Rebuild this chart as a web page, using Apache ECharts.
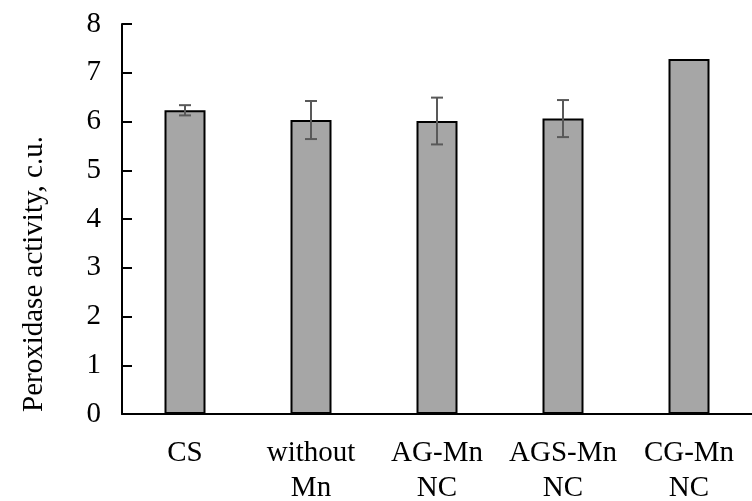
<!DOCTYPE html>
<html>
<head>
<meta charset="utf-8">
<script src="https://cdn.jsdelivr.net/npm/echarts@6/dist/echarts.min.js"></script>
<style>html,body{margin:0;padding:0;background:#fff;}#c{width:752px;height:501px;}</style>
</head>
<body>
<div id="c"></div>
<script>
var categories = ['CS', 'without\nMn', 'AG-Mn\nNC', 'AGS-Mn\nNC', 'CG-Mn\nNC'];
var values = [6.23, 6.03, 6.01, 6.06, 7.28];
var errors = [0.105, 0.39, 0.48, 0.38, 0];
var yTicks = [0, 1, 2, 3, 4, 5, 6, 7, 8];
var yTitle = 'Peroxidase activity, c.u.';

var font = '"Liberation Serif", "Times New Roman", serif';
var chart = echarts.init(document.getElementById('c'), null, {renderer: 'canvas'});
var errData = values.map(function (v, i) { return [i, v - errors[i], v + errors[i], errors[i]]; });

chart.setOption({
  animation: false,
  grid: {left: 122, right: 0, top: 24, bottom: 87, containLabel: false, outerBoundsMode: 'none'},
  xAxis: {
    type: 'category',
    data: categories,
    axisLine: {lineStyle: {color: '#000', width: 2}},
    axisTick: {show: false},
    axisLabel: {color: '#000', fontFamily: font, fontSize: 29, lineHeight: 35, margin: 22, interval: 0}
  },
  yAxis: {
    type: 'value',
    min: yTicks[0], max: yTicks[yTicks.length - 1], interval: 1,
    axisLine: {show: true, lineStyle: {color: '#000', width: 2}},
    axisTick: {show: true, inside: true, length: 10, lineStyle: {color: '#000', width: 2}},
    splitLine: {show: false},
    axisLabel: {color: '#000', fontFamily: font, fontSize: 29, margin: 21}
  },
  graphic: [{
    type: 'text',
    x: 34, y: 274,
    rotation: Math.PI / 2,
    style: {text: yTitle, fill: '#000', font: '29px ' + font, textAlign: 'center', textVerticalAlign: 'middle'}
  }],
  series: [{
    type: 'bar',
    data: values,
    barWidth: 41,
    itemStyle: {color: '#a6a6a6', borderColor: '#000', borderWidth: 2}
  }, {
    type: 'custom',
    data: errData,
    renderItem: function (params, api) {
      if (api.value(3) <= 0) return null;
      var lo = api.coord([api.value(0), api.value(1)]);
      var hi = api.coord([api.value(0), api.value(2)]);
      var hw = 6;
      var st = {stroke: '#595959', lineWidth: 2};
      return {type: 'group', children: [
        {type: 'line', shape: {x1: hi[0], y1: hi[1], x2: lo[0], y2: lo[1]}, style: st},
        {type: 'line', shape: {x1: hi[0] - hw, y1: hi[1], x2: hi[0] + hw, y2: hi[1]}, style: st},
        {type: 'line', shape: {x1: lo[0] - hw, y1: lo[1], x2: lo[0] + hw, y2: lo[1]}, style: st}
      ]};
    },
    z: 5
  }]
});
</script>
</body>
</html>
